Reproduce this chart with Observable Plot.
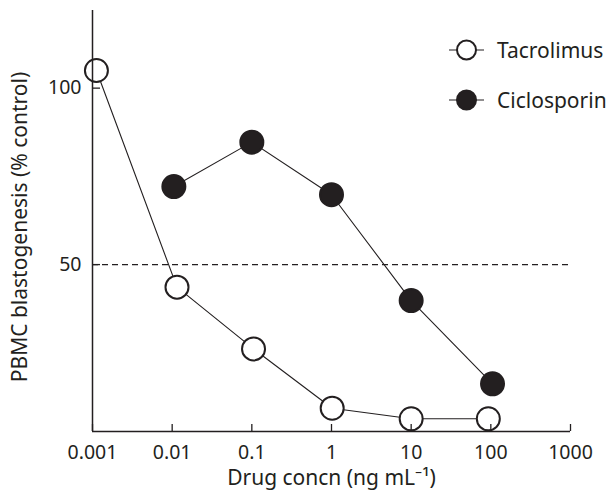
<!DOCTYPE html>
<html><head><meta charset="utf-8">
<script src="https://cdn.jsdelivr.net/npm/d3@7"></script>
<script src="https://cdn.jsdelivr.net/npm/@observablehq/plot@0.6"></script>
<style>
body{margin:0;background:#fff;}
#wrap{position:relative;width:609px;height:491px;font-family:"Noto Sans",sans-serif;color:#231f20;}
#legend{position:absolute;left:449px;top:38px;}
.item{display:flex;align-items:center;height:24px;margin-bottom:26px;font-size:21px;white-space:nowrap;}
.item svg{margin-right:13px;}
</style></head>
<body><div id="wrap"><div id="legend"></div></div>
<script>
// ---- data ----
const seriesNames = ["Tacrolimus", "Ciclosporin"];
const tacConc = [0.00112, 0.0115, 0.105, 1.02, 10, 93];
const tacVal  = [105, 43.6, 26.1, 9.3, 6.3, 6.3];
const cicConc = [0.0105, 0.1, 1, 10, 105];
const cicVal  = [72.1, 84.7, 69.8, 39.8, 16.2];
const xTicks = [0.001, 0.01, 0.1, 1, 10, 100, 1000];
const yTicks = [50, 100];
const refLine = [50];
const xTitle = "Drug concn (ng mL\u207B\u00B9)";
const yTitle = "PBMC blastogenesis (% control)";

const ink = "#231f20";
const tac = tacConc.map((c, i) => ({x: c, y: tacVal[i]}));
const cic = cicConc.map((c, i) => ({x: c, y: cicVal[i]}));
const xDomain = [xTicks[0], xTicks[xTicks.length - 1]];
const yDomain = [2.7, 122];

const chart = Plot.plot({
  width: 609, height: 491,
  marginLeft: 92, marginRight: 39, marginTop: 10, marginBottom: 60,
  style: {fontFamily: "Noto Sans", fontSize: "19.5px", color: ink, background: "white", overflow: "visible"},
  x: {type: "log", domain: xDomain},
  y: {domain: yDomain},
  marks: [
    Plot.ruleY(refLine, {stroke: ink, strokeWidth: 1.1, strokeDasharray: "6,4"}),
    Plot.line(tac, {x: "x", y: "y", stroke: ink, strokeWidth: 1.1}),
    Plot.line(cic, {x: "x", y: "y", stroke: ink, strokeWidth: 1.1}),
    Plot.dot(tac, {x: "x", y: "y", r: 11.5, fill: "white", stroke: ink, strokeWidth: 2}),
    Plot.dot(cic, {x: "x", y: "y", r: 11.5, fill: ink, stroke: ink, strokeWidth: 2}),
    Plot.axisX({ticks: xTicks, tickFormat: d => String(d), tickSize: -7, tickPadding: 21, label: null, stroke: ink, strokeWidth: 1.3, fontSize: 19.5}),
    Plot.axisY({ticks: yTicks, tickFormat: d => String(d), tickSize: -8, tickPadding: 19, label: null, stroke: ink, strokeWidth: 1.3, fontSize: 19.5}),
    Plot.ruleX([xDomain[0]], {stroke: ink, strokeWidth: 1.5}),
    Plot.ruleY([yDomain[0]], {stroke: ink, strokeWidth: 1.5}),
    Plot.text([xTitle], {frameAnchor: "bottom", lineAnchor: "middle", textAnchor: "middle", dy: 47, fontSize: 21, fill: ink}),
    Plot.text([yTitle], {frameAnchor: "left", lineAnchor: "middle", textAnchor: "middle", dx: -72, dy: 6, rotate: -90, fontSize: 21, fill: ink})
  ]
});
const wrap = document.getElementById("wrap");
wrap.insertBefore(chart, wrap.firstChild);

// legend
const fills = ["white", ink];
const legend = document.getElementById("legend");
seriesNames.forEach((name, i) => {
  const item = document.createElement("div");
  item.className = "item";
  item.innerHTML = `<svg width="35" height="24"><line x1="0" x2="35" y1="12" y2="12" stroke="${ink}" stroke-width="1.2"/><circle cx="17.5" cy="12" r="9.5" fill="${fills[i]}" stroke="${ink}" stroke-width="2"/></svg><span>${name}</span>`;
  legend.appendChild(item);
});
</script>
</body></html>
